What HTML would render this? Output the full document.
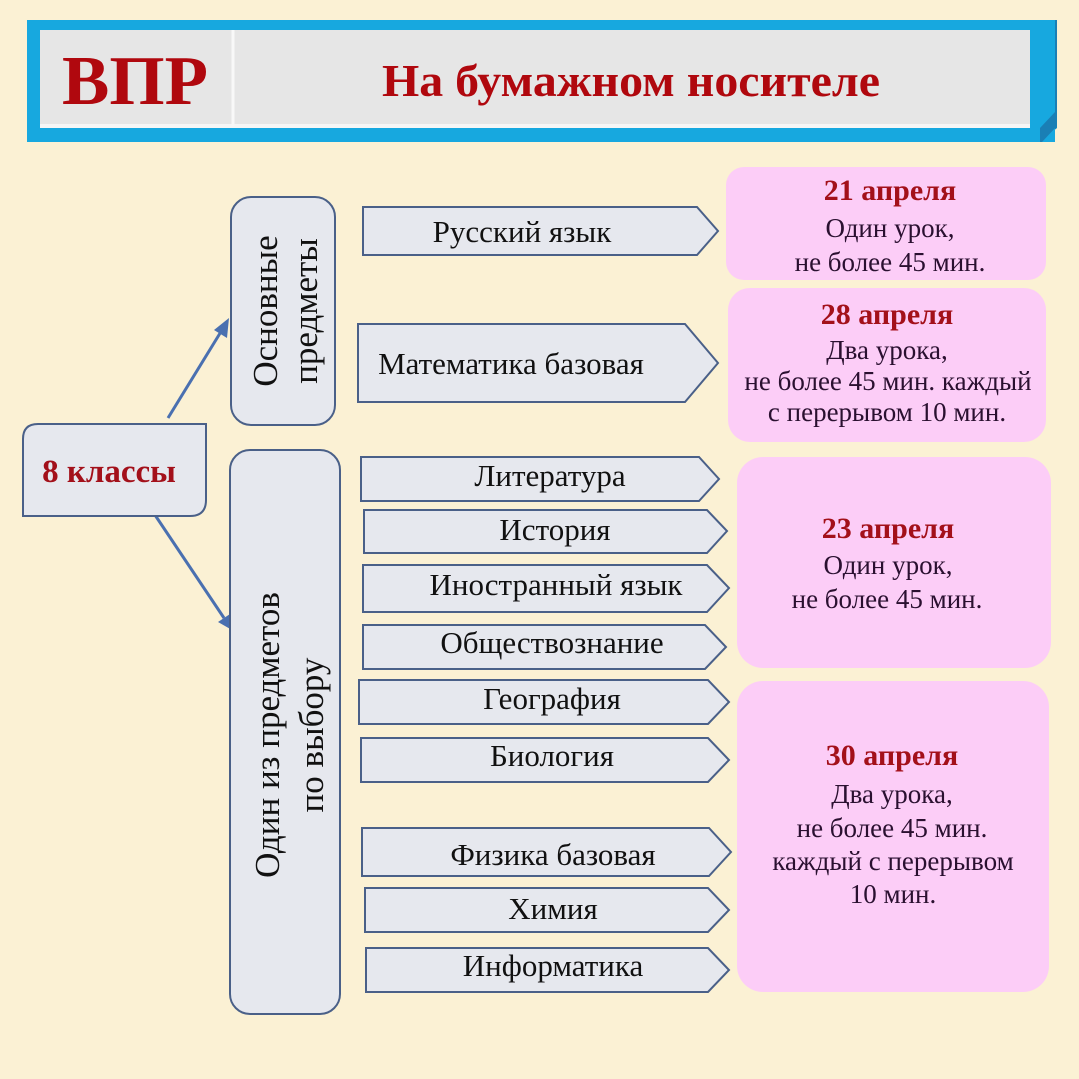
<!DOCTYPE html>
<html><head><meta charset="utf-8"><style>
html,body{margin:0;padding:0;background:#fbf1d4;}
svg{display:block}
</style></head><body>
<svg width="1079" height="1079" viewBox="0 0 1079 1079" xmlns="http://www.w3.org/2000/svg" font-family="Liberation Serif, serif">
<rect width="1079" height="1079" fill="#fbf1d4"/>
<!-- header -->
<polygon points="1030,20 1057,20 1057,128 1040,142 1030,142" fill="#1688c0"/>
<rect x="27" y="20" width="1028" height="122" fill="#17a8df"/>
<polygon points="1055,20 1057,20 1057,126 1042,142 1040,142 1040,128 1055,112" fill="#1a7fb5"/>
<rect x="40" y="30" width="990" height="98" fill="#e6e6e6"/>
<rect x="40" y="124" width="990" height="4" fill="#f6f6f6"/>
<line x1="233" y1="30" x2="233" y2="126" stroke="#f8f8f8" stroke-width="3"/>
<text x="135" y="104" font-size="70" font-weight="bold" fill="#b0080e" text-anchor="middle" textLength="146" lengthAdjust="spacingAndGlyphs">ВПР</text>
<text x="631" y="96" font-size="46" font-weight="bold" fill="#b0080e" text-anchor="middle" textLength="498" lengthAdjust="spacingAndGlyphs">На бумажном носителе</text>

<!-- connectors -->
<g stroke="#4a70b0" stroke-width="3" fill="#4a70b0">
<line x1="168" y1="418" x2="222" y2="330"/>
<polygon points="229,318 227,338 214,330" stroke="none"/>
<line x1="155" y1="515" x2="224" y2="618"/>
<polygon points="232,630 218,622 230,614" stroke="none"/>
</g>

<!-- left boxes -->
<path d="M38,424 H206 V500 Q206,516 190,516 H23 V439 Q23,424 38,424 Z" fill="#e6e8ee" stroke="#4a6088" stroke-width="2"/>
<text x="109" y="482" font-size="33" font-weight="bold" fill="#a3101a" text-anchor="middle">8 классы</text>

<rect x="231" y="197" width="104" height="228" rx="20" fill="#e6e8ee" stroke="#4a6088" stroke-width="2"/>
<g transform="translate(283,311) rotate(-90)" font-size="35" fill="#111" text-anchor="middle">
<text x="0" y="-6">Основные</text>
<text x="0" y="34">предметы</text>
</g>
<rect x="230" y="450" width="110" height="564" rx="20" fill="#e6e8ee" stroke="#4a6088" stroke-width="2"/>
<g transform="translate(285,735) rotate(-90)" font-size="35" fill="#111" text-anchor="middle">
<text x="0" y="-6">Один из предметов</text>
<text x="0" y="38">по выбору</text>
</g>

<!-- subject arrows -->
<g fill="#e6e8ee" stroke="#4a6088" stroke-width="2">
<polygon points="363,207 697,207 718,231 697,255 363,255"/>
<polygon points="358,324 685,324 718,363 685,402 358,402"/>
<polygon points="361,457 699,457 719,479 699,501 361,501"/>
<polygon points="364,510 707,510 727,531 707,553 364,553"/>
<polygon points="363,565 707,565 729,588 707,612 363,612"/>
<polygon points="363,625 705,625 726,647 705,669 363,669"/>
<polygon points="359,680 708,680 729,702 708,724 359,724"/>
<polygon points="361,738 708,738 729,760 708,782 361,782"/>
<polygon points="362,828 709,828 731,852 709,876 362,876"/>
<polygon points="365,888 708,888 729,910 708,932 365,932"/>
<polygon points="366,948 708,948 729,970 708,992 366,992"/>
</g>
<g font-size="31" fill="#111" text-anchor="middle">
<text x="522" y="242">Русский язык</text>
<text x="511" y="374">Математика базовая</text>
<text x="550" y="486">Литература</text>
<text x="555" y="540">История</text>
<text x="556" y="595">Иностранный язык</text>
<text x="552" y="653">Обществознание</text>
<text x="552" y="709">География</text>
<text x="552" y="766">Биология</text>
<text x="553" y="865">Физика базовая</text>
<text x="553" y="919">Химия</text>
<text x="553" y="976">Информатика</text>
</g>

<!-- pink boxes -->
<g fill="#fccdf7">
<rect x="726" y="167" width="320" height="113" rx="18"/>
<rect x="728" y="288" width="318" height="154" rx="22"/>
<rect x="737" y="457" width="314" height="211" rx="26"/>
<rect x="737" y="681" width="312" height="311" rx="26"/>
</g>
<g font-size="30" font-weight="bold" fill="#a3101a" text-anchor="middle">
<text x="890" y="200">21 апреля</text>
<text x="887" y="324">28 апреля</text>
<text x="888" y="538">23 апреля</text>
<text x="892" y="765">30 апреля</text>
</g>
<g font-size="27" fill="#2a1030" text-anchor="middle">
<text x="890" y="237">Один урок,</text>
<text x="890" y="271">не более 45 мин.</text>
<text x="887" y="359">Два урока,</text>
<text x="888" y="390">не более 45 мин.  каждый</text>
<text x="887" y="421">с перерывом  10 мин.</text>
<text x="888" y="574">Один урок,</text>
<text x="887" y="608">не более 45 мин.</text>
<text x="892" y="803">Два урока,</text>
<text x="892" y="837">не более 45 мин.</text>
<text x="893" y="870">каждый с перерывом</text>
<text x="893" y="903">10 мин.</text>
</g>
</svg>
</body></html>
